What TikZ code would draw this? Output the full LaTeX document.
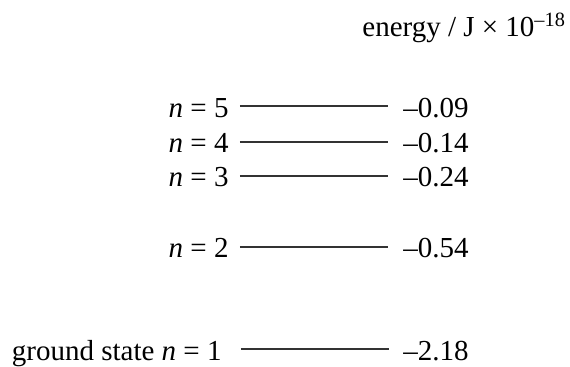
\documentclass[tikz,border=0pt]{standalone}
\usepackage{fontspec}
\setmainfont{Liberation Serif}
\begin{document}
\begin{tikzpicture}[x=0.5pt,y=-0.5pt,
  lbl/.style={inner sep=0pt, font=\fontsize{14.5}{17}\selectfont},
  level/.style={line width=0.75pt, black!80}]
\useasboundingbox (0,0) rectangle (570,366);
\node[lbl, anchor=base west] (title) at (362,36.7) {energy / J × 10\textsuperscript{–18}};
% left labels
\node[lbl, anchor=base east] (l5) at (229,117) {\textit{n} = 5};
\node[lbl, anchor=base east] (l4) at (229,152) {\textit{n} = 4};
\node[lbl, anchor=base east] (l3) at (229,186.5) {\textit{n} = 3};
\node[lbl, anchor=base east] (l2) at (229,257) {\textit{n} = 2};
\node[lbl, anchor=base east] (l1) at (222,360.5) {ground state \textit{n} = 1};
% right labels
\node[lbl, anchor=base west] (r5) at (403,117) {–0.09};
\node[lbl, anchor=base west] (r4) at (403,152) {–0.14};
\node[lbl, anchor=base west] (r3) at (403,186.5) {–0.24};
\node[lbl, anchor=base west] (r2) at (403,257) {–0.54};
\node[lbl, anchor=base west] (r1) at (403,360.5) {–2.18};
% level lines
\coordinate (s5) at (240,106); \coordinate (e5) at (388,106);
\coordinate (s4) at (240,142); \coordinate (e4) at (388,142);
\coordinate (s3) at (240,176); \coordinate (e3) at (388,176);
\coordinate (s2) at (240,247); \coordinate (e2) at (388,247);
\coordinate (s1) at (241,349); \coordinate (e1) at (389,349);
\draw[level] (s5) -- (e5);
\draw[level] (s4) -- (e4);
\draw[level] (s3) -- (e3);
\draw[level] (s2) -- (e2);
\draw[level] (s1) -- (e1);
\end{tikzpicture}
\end{document}
